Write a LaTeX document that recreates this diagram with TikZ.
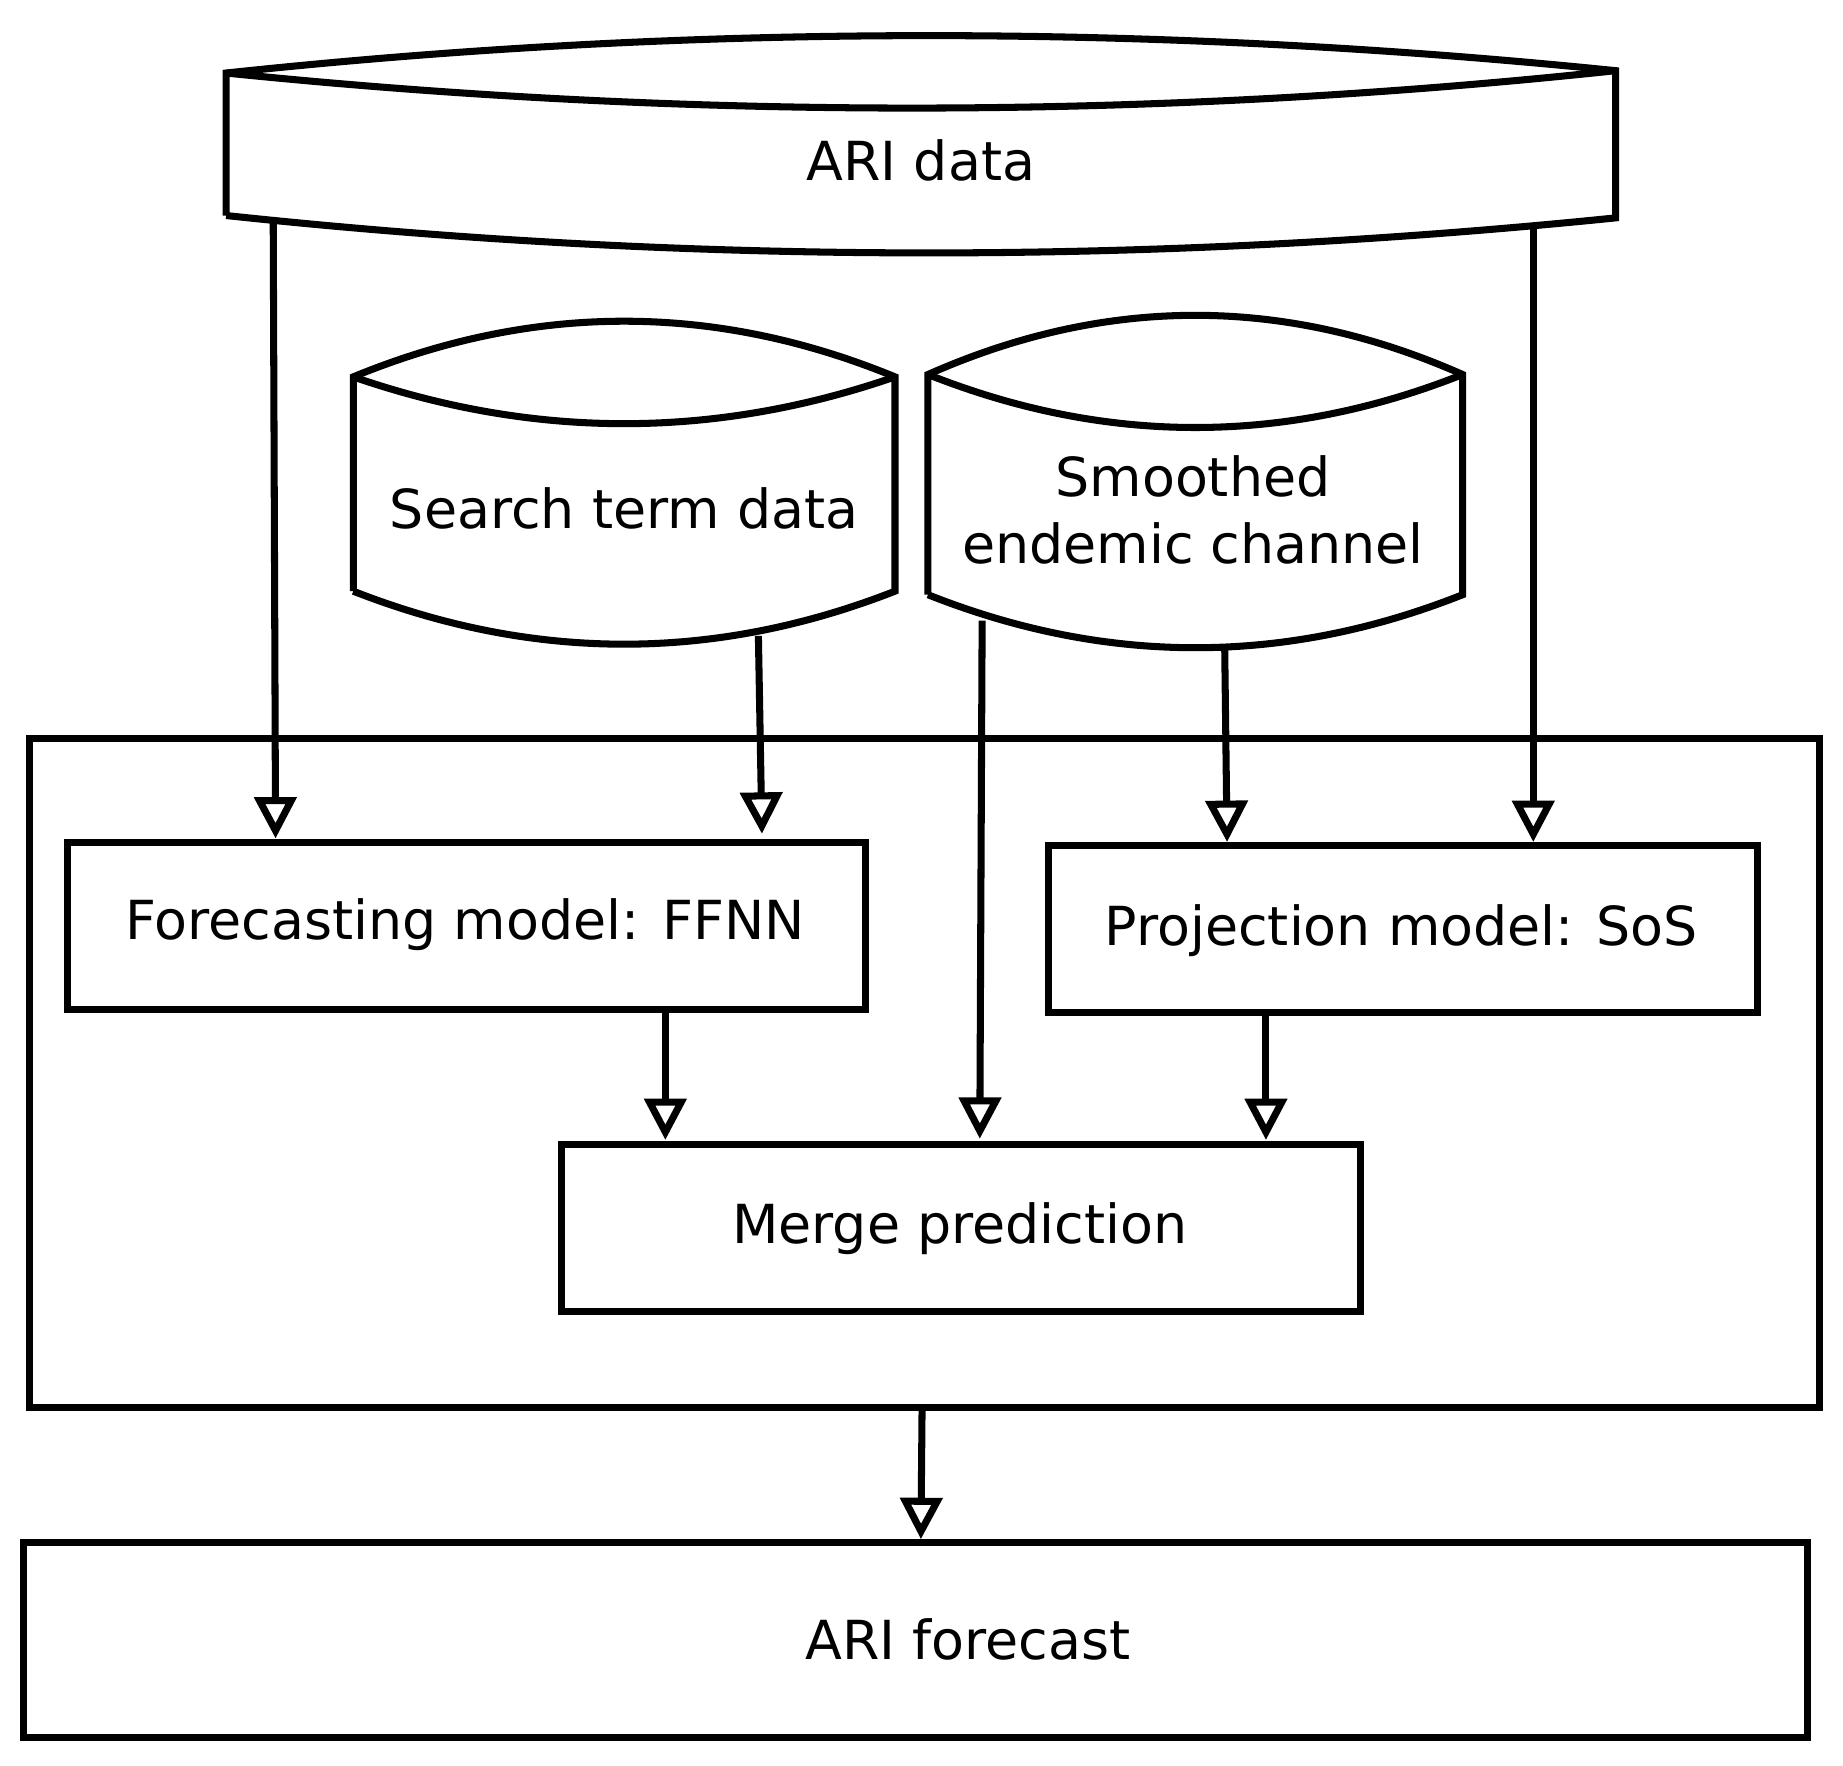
\documentclass[tikz,border=0pt]{standalone}
\usepackage{fontspec}
\setmainfont{DejaVu Sans}
\usetikzlibrary{arrows.meta}
\begin{document}
\begin{tikzpicture}[x=0.01cm,y=-0.01cm,line width=1.7pt,
  box/.style={draw,rectangle,inner sep=0pt},
  lbl/.style={font=\fontsize{13}{16}\selectfont,align=center},
  arr/.style={-{Triangle[open,length=10pt,width=10pt,line width=1.7pt]}},
  line join=miter]
\useasboundingbox (0,0) rectangle (1565,1499);
% ARI data cylinder
\draw (192,183) -- (192,62) .. controls (585,20) and (978,20) .. (1372,60) -- (1372,185)
  .. controls (978,225) and (585,225) .. (192,183);
\draw (192,62) .. controls (585,102) and (978,102) .. (1372,60);
\node[lbl] (ari) at (782,136) {ARI data};
% Search term data
\draw (300,502) -- (300,320) .. controls (453,257) and (607,257) .. (760,320) -- (760,502)
  .. controls (607,562) and (453,562) .. (300,502);
\draw (300,320) .. controls (453,373) and (607,373) .. (760,320);
\node[lbl] (std) at (530,432) {Search term data};
% Smoothed endemic channel
\draw (788,505) -- (788,318) .. controls (939,251) and (1091,251) .. (1242,318) -- (1242,505)
  .. controls (1091,565) and (939,565) .. (788,505);
\draw (788,318) .. controls (939,378) and (1091,378) .. (1242,318);
\node[lbl] (sec) at (1013,433) {Smoothed\\endemic channel};
% boxes
\draw (25,627) rectangle (1545,1195);
\coordinate (outerS) at (783,1195);
\draw (57,715) rectangle (735,857);
\node[lbl] (ffnn) at (395,785) {Forecasting model: FFNN};
\draw (890,718) rectangle (1492,860);
\node[lbl] (sos) at (1190,790) {Projection model: SoS};
\draw (477,972) rectangle (1155,1114);
\node[lbl] (merge) at (815,1043) {Merge prediction};
\draw (20,1310) rectangle (1535,1475);
\node[lbl] (fc) at (822,1392) {ARI forecast};
% arrows
\coordinate (a1) at (232,186); \coordinate (a1e) at (234,712);
\coordinate (a2) at (1302,192); \coordinate (a2e) at (1302,715);
\coordinate (a3) at (644,540); \coordinate (a3e) at (647,708);
\coordinate (a4) at (1040,552); \coordinate (a4e) at (1042,715);
\coordinate (a5) at (834,527); \coordinate (a5e) at (832,967);
\coordinate (a6) at (565,857); \coordinate (a6e) at (565,968);
\coordinate (a7) at (1075,860); \coordinate (a7e) at (1075,968);
\coordinate (a8e) at (782,1307);
\foreach \s/\e in {a1/a1e,a2/a2e,a3/a3e,a4/a4e,a5/a5e,a6/a6e,a7/a7e,outerS/a8e}
  \draw[arr] (\s) -- (\e);
\end{tikzpicture}
\end{document}
